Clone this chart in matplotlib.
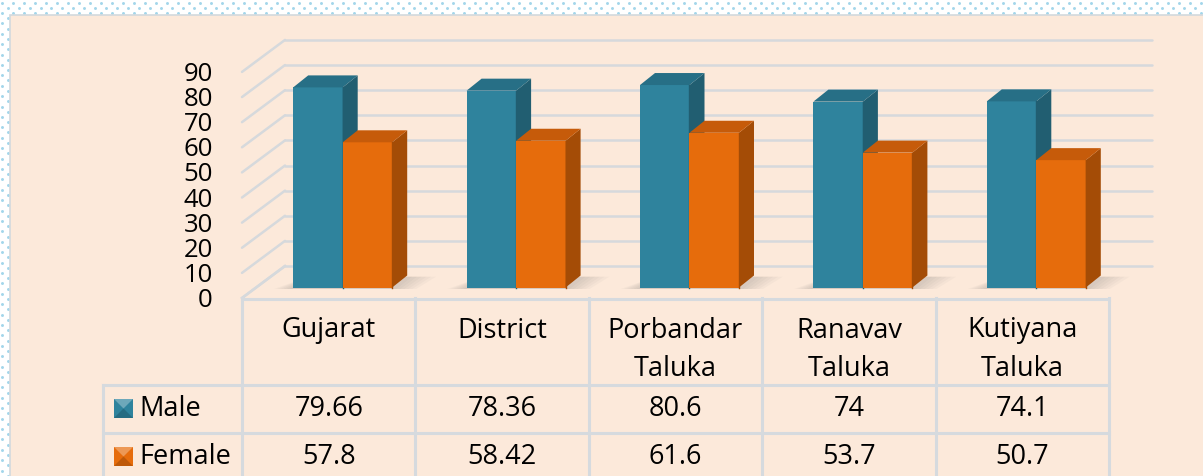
import matplotlib
matplotlib.use("Agg")
import matplotlib.pyplot as plt
from matplotlib.patches import Polygon, Rectangle
import numpy as np

# ---------------- data ----------------
categories = ["Gujarat", "District", "Porbandar\nTaluka", "Ranavav\nTaluka", "Kutiyana\nTaluka"]
male = [79.66, 78.36, 80.6, 74, 74.1]
female = [57.8, 58.42, 61.6, 53.7, 50.7]
male_labels = ["79.66", "78.36", "80.6", "74", "74.1"]
female_labels = ["57.8", "58.42", "61.6", "53.7", "50.7"]
series_names = ["Male", "Female"]
yticks = [0, 10, 20, 30, 40, 50, 60, 70, 80, 90]

# ---------------- layout (pixels) ----------------
W, H = 1203, 476
PX0 = 242.0      # left edge of first column
CW = 173.4       # column width
Y0 = 298.0       # front floor line
S = 2.512        # px per value unit

def dx(px):
    return (px - PX0) / CW - 0.5

def dy(py):
    return (Y0 - py) / S

fig = plt.figure(figsize=(W / 100, H / 100), dpi=100)
fig.patch.set_facecolor("white")
ax = fig.add_axes([0, 0, 1, 1])
ax.set_xlim(dx(0), dx(W))
ax.set_ylim(dy(H), dy(0))
ax.axis("off")

FONT = "Open Sans"
BG = "#FCE9DA"
GRID = "#D6D9DC"

# dotted border pattern
dots_x, dots_y = [], []
for r, py in enumerate(np.arange(2.5, H, 5.2)):
    off = 0 if r % 2 == 0 else 5.5
    for px in np.arange(2 + off, W, 11):
        if py < 15 or px < 10:
            dots_x.append(dx(px)); dots_y.append(dy(py))
ax.scatter(dots_x, dots_y, s=4.5, color="#A3D6EA", linewidths=0, zorder=0)

# panel
ax.add_patch(Rectangle((dx(10), dy(H + 5)), dx(W + 5) - dx(10), dy(15) - dy(H + 5),
                       facecolor=BG, edgecolor="#D3D9DD", linewidth=1.2, zorder=1))

# depth offsets
DX = 43 / CW
DY = 32 / S
xl = -0.5
xr = len(categories) - 0.5

# gridlines: side wall + back wall
for v in yticks:
    ax.plot([xl, xl + DX], [v, v + DY], color=GRID, lw=1.8, zorder=2, solid_capstyle="round")
    ax.plot([xl + DX, xr + DX], [v + DY, v + DY], color=GRID, lw=1.8, zorder=2,
            solid_capstyle="round")
    ax.text(dx(213), v - 1.0, str(v), ha="right", va="center", fontsize=18.5,
            family=FONT, color="black", zorder=5)

# bars
BW = 49.5 / CW
OX = 14 / CW
OY = 10.5 / S
BDX = 15 / CW
BDY = 12 / S

male_cols = ("#2F839D", "#215E71", "#276F86")
female_cols = ("#E66C0C", "#A44C06", "#C65B0A")

def shadow(x0, x1):
    # soft floor shadow around a bar pair
    for k in range(6):
        ext = (k + 1) * 4 / CW
        ax.add_patch(Polygon([(x0 - ext * 0.8, OY - 0.6), (x1 + ext, OY - 0.6),
                              (x1 + BDX + ext * 1.2, OY + BDY * 0.9), (x0 + BDX, OY + BDY * 0.9)],
                             closed=True, facecolor="#6A6A6A", alpha=0.045, edgecolor="none",
                             zorder=3))

def bar3d(left, height, cols):
    front, side, top = cols
    right = left + BW
    b = OY
    t = OY + height
    ax.add_patch(Rectangle((left, b), BW, height, facecolor=front, edgecolor="none", zorder=4))
    ax.add_patch(Polygon([(right, b), (right + BDX, b + BDY), (right + BDX, t + BDY), (right, t)],
                         closed=True, facecolor=side, edgecolor="none", zorder=4))
    ax.add_patch(Polygon([(left, t), (left + BDX, t + BDY), (right + BDX, t + BDY), (right, t)],
                         closed=True, facecolor=top, edgecolor="none", zorder=4))
    ax.plot([right, right], [b, t], color=side, lw=1.0, zorder=4)

for i in range(len(categories)):
    c = i + OX
    shadow(c - BW, c + BW)
for i in range(len(categories)):
    c = i + OX
    bar3d(c - BW, male[i], male_cols)
    bar3d(c, female[i], female_cols)

# floor side edge
ax.plot([xl, xl + DX], [0, DY], color=GRID, lw=1.8, zorder=2)

# ---------------- table ----------------
TL = "#D6DADE"
col_edges = [PX0 + k * CW for k in range(len(categories) + 1)]
ax.plot([dx(col_edges[0]), dx(col_edges[-1])], [dy(299), dy(299)], color=TL, lw=2.2, zorder=3)
for py in (385, 433):
    ax.plot([dx(103), dx(col_edges[-1])], [dy(py), dy(py)], color=TL, lw=2.2, zorder=3)
for px in col_edges:
    ax.plot([dx(px), dx(px)], [dy(298), dy(H + 5)], color=TL, lw=2.2, zorder=3)
ax.plot([dx(103), dx(103)], [dy(385), dy(H + 5)], color=TL, lw=2.2, zorder=3)

for i, cat in enumerate(categories):
    for j, line in enumerate(cat.split("\n")):
        ax.text(i, dy(327 + 38.5 * j), line, ha="center", va="center_baseline", fontsize=19.5,
                family=FONT, zorder=5)
    ax.text(i, dy(409), male_labels[i], ha="center", va="center", fontsize=19.5,
            family=FONT, zorder=5)
    ax.text(i, dy(457), female_labels[i], ha="center", va="center", fontsize=19.5,
            family=FONT, zorder=5)

# legend keys
def key(py_top, cols):
    front, side, top = cols
    x0, x1 = dx(114), dx(133)
    y0, y1 = dy(py_top + 19), dy(py_top)
    xm, ym = (x0 + x1) / 2, (y0 + y1) / 2
    ax.add_patch(Rectangle((x0, y0), x1 - x0, y1 - y0, facecolor=front, edgecolor="none", zorder=5))
    ax.add_patch(Polygon([(x0, y1), (x1, y1), (xm, ym)], closed=True,
                         facecolor="white", alpha=0.3, edgecolor="none", zorder=6))
    ax.add_patch(Polygon([(x0, y0), (x1, y0), (xm, ym)], closed=True,
                         facecolor=side, alpha=0.6, edgecolor="none", zorder=6))

key(399, male_cols)
key(447, female_cols)
ax.text(dx(139), dy(409), series_names[0], ha="left", va="center", fontsize=19.5, family=FONT, zorder=5)
ax.text(dx(139), dy(457), series_names[1], ha="left", va="center", fontsize=19.5, family=FONT, zorder=5)

fig.savefig("out.png", dpi=100, facecolor=fig.get_facecolor())
